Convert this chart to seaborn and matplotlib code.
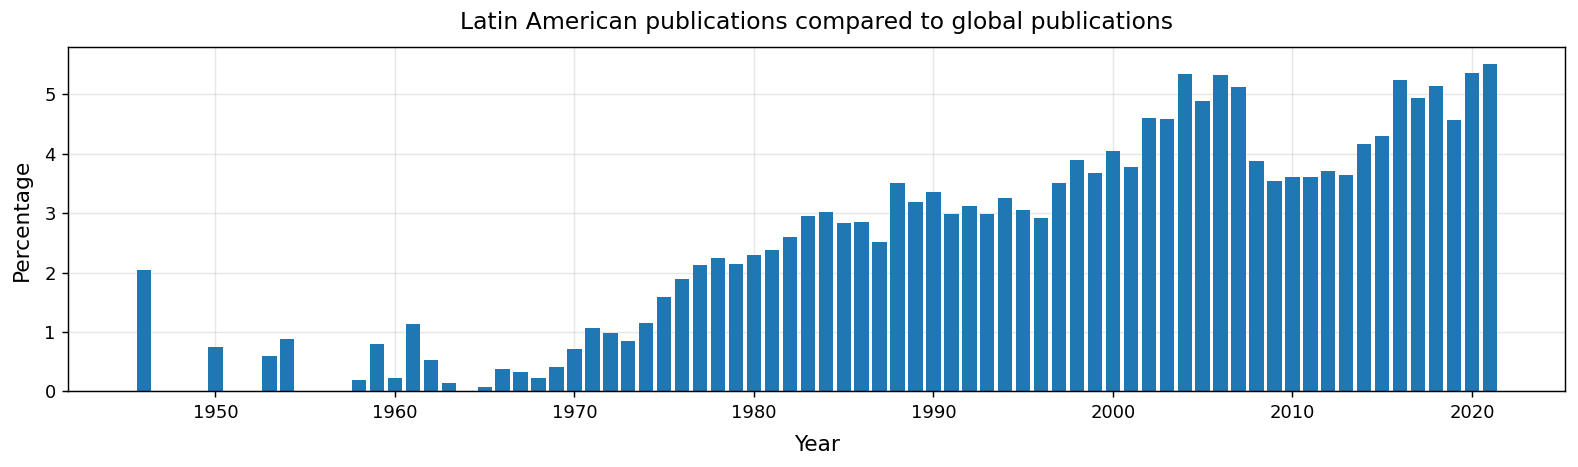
import matplotlib
matplotlib.use("Agg")
import matplotlib.pyplot as plt
import pandas as pd
import seaborn as sns

# share of Latin American publications in global output, per year (%)
years = [1946, 1950, 1953, 1954, 1958, 1959, 1960, 1961, 1962, 1963,
         1965, 1966, 1967, 1968, 1969, 1970, 1971, 1972, 1973, 1974,
         1975, 1976, 1977, 1978, 1979, 1980, 1981, 1982, 1983, 1984,
         1985, 1986, 1987, 1988, 1989, 1990, 1991, 1992, 1993, 1994,
         1995, 1996, 1997, 1998, 1999, 2000, 2001, 2002, 2003, 2004,
         2005, 2006, 2007, 2008, 2009, 2010, 2011, 2012, 2013, 2014,
         2015, 2016, 2017, 2018, 2019, 2020, 2021]
percentage = [2.04, 0.75, 0.59, 0.88, 0.20, 0.79, 0.23, 1.13, 0.53, 0.15,
              0.08, 0.38, 0.33, 0.22, 0.41, 0.71, 1.06, 0.98, 0.85, 1.15,
              1.58, 1.89, 2.13, 2.25, 2.15, 2.29, 2.37, 2.60, 2.95, 3.02,
              2.83, 2.85, 2.51, 3.51, 3.19, 3.35, 2.99, 3.11, 2.98, 3.26,
              3.05, 2.92, 3.50, 3.89, 3.67, 4.05, 3.78, 4.60, 4.58, 5.34,
              4.88, 5.32, 5.11, 3.87, 3.54, 3.61, 3.61, 3.71, 3.64, 4.16,
              4.29, 5.23, 4.94, 5.13, 4.56, 5.36, 5.51]

df = pd.DataFrame({"Year": years, "Percentage": percentage})

fig, ax = plt.subplots(figsize=(1578 / 130, 467 / 130), dpi=130)
fig.subplots_adjust(left=0.0434, right=0.9918, top=0.8987, bottom=0.1617)

sns.barplot(data=df, x="Year", y="Percentage", native_scale=True,
            color="#1f77b4", saturation=1, width=0.8, ax=ax)

ax.set_axisbelow(True)
ax.grid(True, alpha=0.3)
ax.set_xticks(range(1950, 2021, 10))
ax.margins(x=0.05)
ax.tick_params(labelsize=10)
ax.set_xlabel("Year", fontsize=12, labelpad=7)
ax.set_ylabel("Percentage", fontsize=12, labelpad=7)
ax.set_title("Latin American publications compared to global publications",
             fontsize=13, pad=10)

fig.savefig("out.png", dpi=130)
